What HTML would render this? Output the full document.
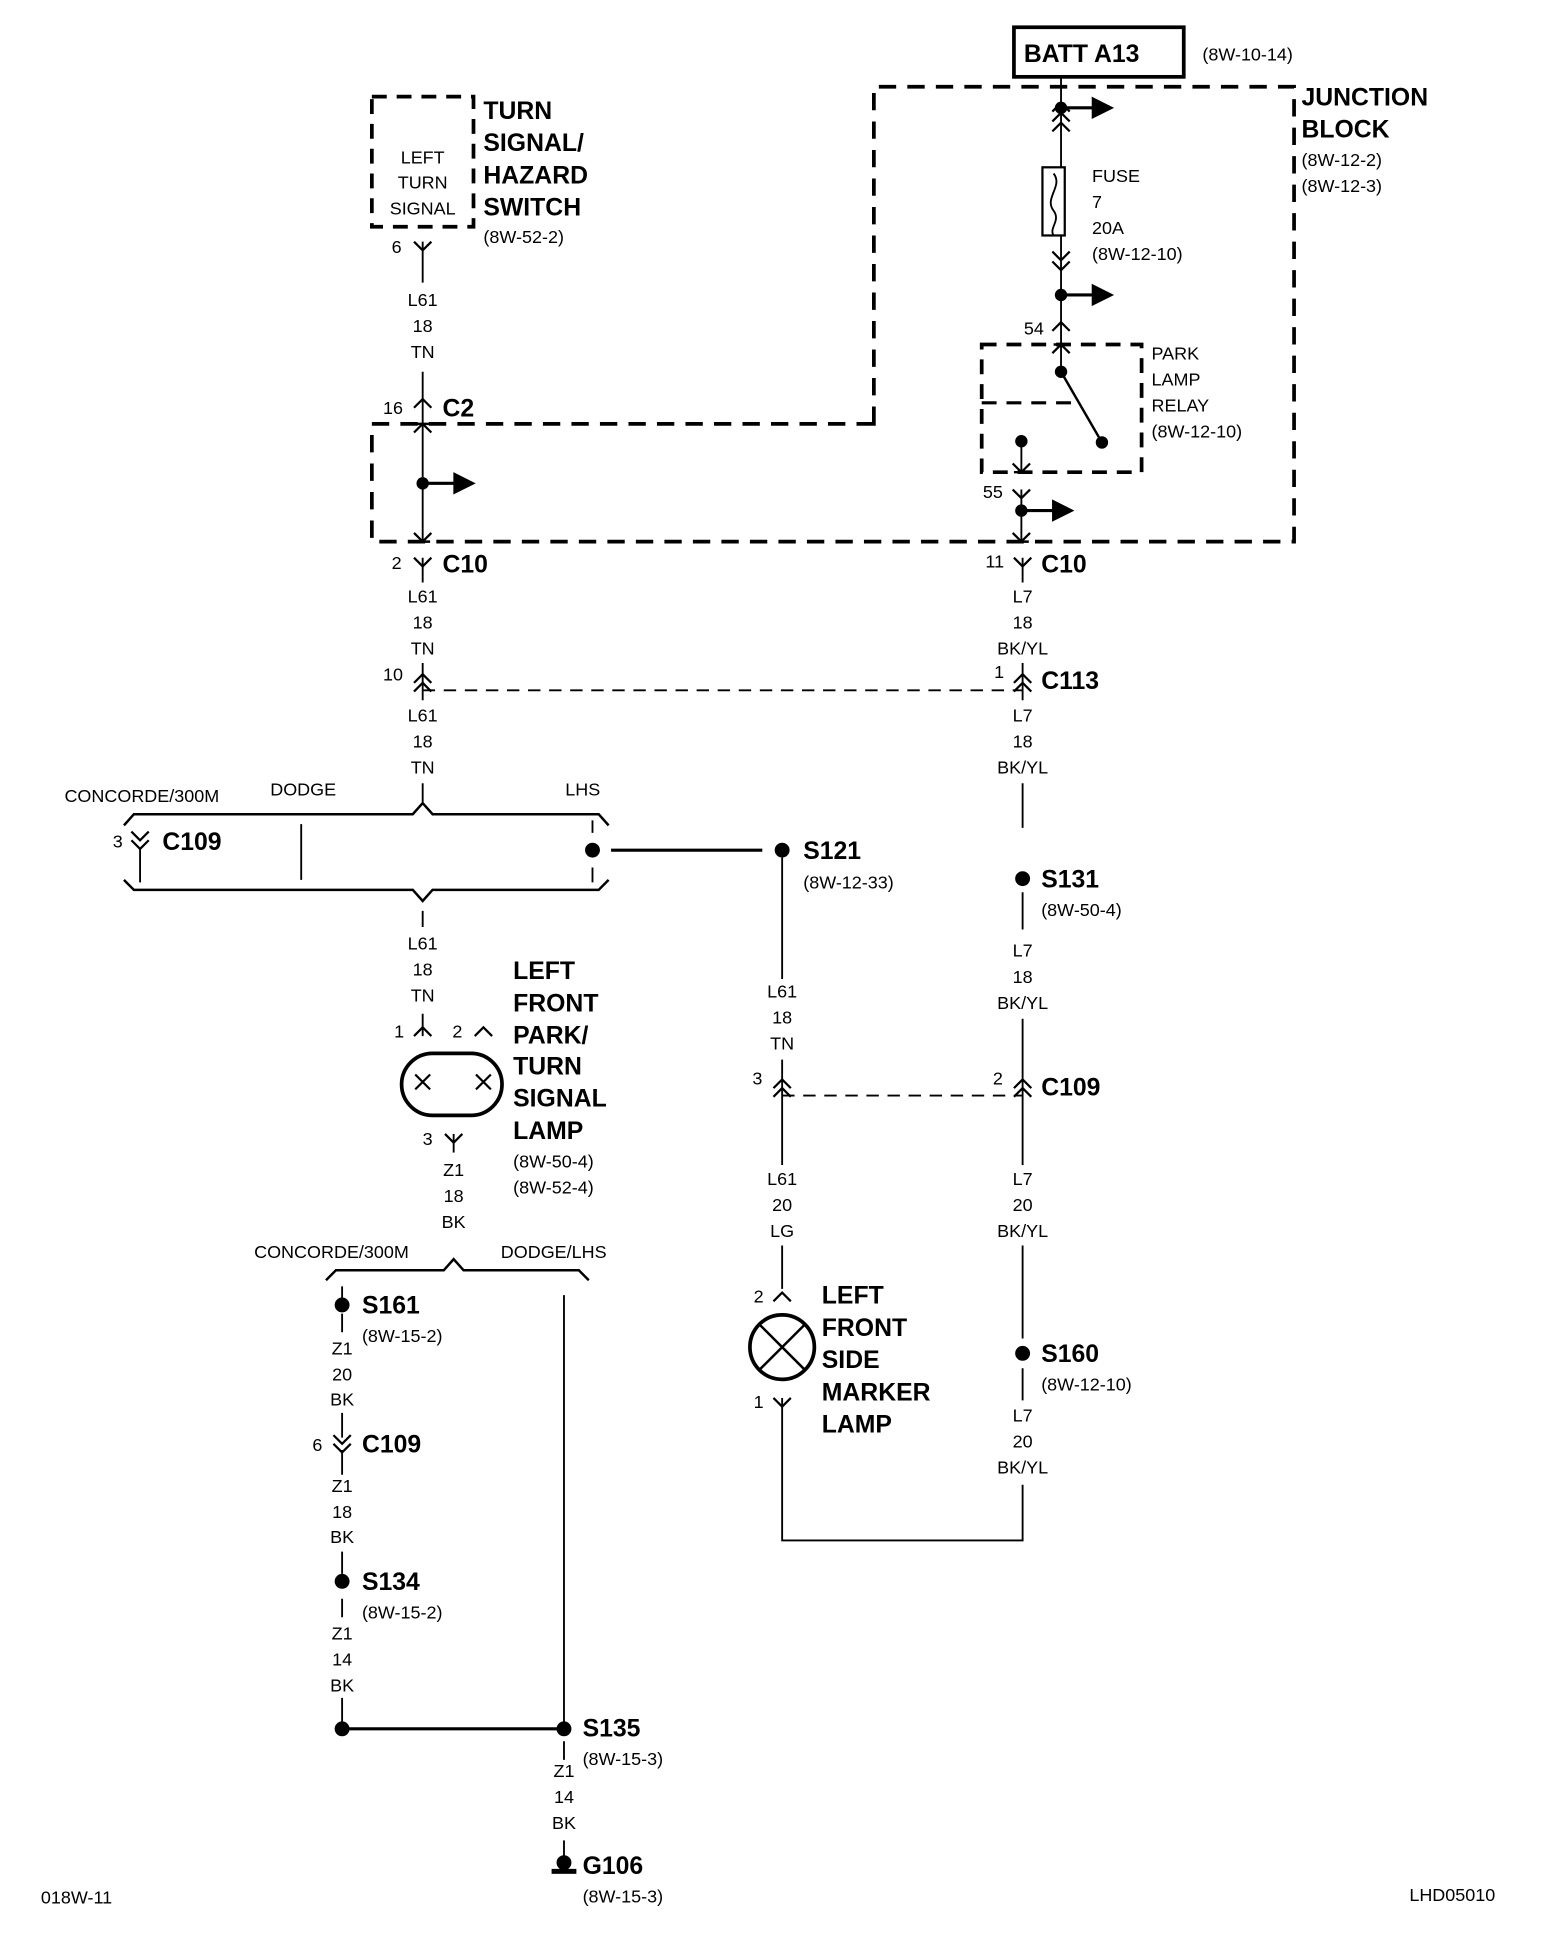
<!DOCTYPE html>
<html><head><meta charset="utf-8"><style>
html,body{margin:0;padding:0;background:#fff}
svg{display:block}
text{font-family:"Liberation Sans Narrow","Liberation Sans",sans-serif;fill:#000}
.s{font-size:14.5px}
.b{font-size:20px;font-weight:bold}
.m{text-anchor:middle}
</style></head><body>
<svg width="1568" height="1942" viewBox="0 0 1265 1567" preserveAspectRatio="none" xmlns="http://www.w3.org/2000/svg">
<defs>
<path id="up" d="M-7,7 L0,0 L7,7" fill="none" stroke="#000" stroke-width="1.8"/>
<path id="dn" d="M-7,-7 L0,0 L7,-7" fill="none" stroke="#000" stroke-width="1.8"/>
<path id="arr" d="M0,0 L28,0 M26,-7 L40,0 L26,7 Z" stroke="#000" stroke-width="2.5" fill="#000"/>
</defs>
<g stroke="#000" fill="none">
<rect x="818" y="22" width="137" height="40" stroke-width="3"/>
<path d="M705,342 L705,70 L1044,70 L1044,437 L300,437 L300,342 Z" stroke-width="3" stroke-dasharray="14,9"/>
<rect x="300" y="78" width="82" height="105" stroke-width="3" stroke-dasharray="12,8"/>
<rect x="792" y="278" width="129" height="103" stroke-width="3" stroke-dasharray="12,8"/>
<path d="M792,325 L870,325" stroke-width="2.5" stroke-dasharray="12,8"/>
<path d="M856,62 L856,135 M856,190 L856,300" stroke-width="1.5"/>
<rect x="841" y="135" width="18" height="55" stroke-width="1.8"/>
<path d="M850,140 C858,150 842,160 850,170 C856,178 846,184 850,190" stroke-width="1.5"/>
<path d="M856,300 L889,357" stroke-width="2"/>
<path d="M824,356 L824,381 M824,395 L824,437" stroke-width="1.5"/>
<path d="M341,195 L341,228 M341,300 L341,437 M341,450 L341,470 M341,535 L341,565 M341,632 L341,647" stroke-width="1.5"/>
<path d="M341,735 L341,748 M341,818 L341,836" stroke-width="1.5"/>
<path d="M341,557 L825,557" stroke-width="1.5" stroke-dasharray="10,7"/>
<path d="M100,666 L108,657 L333,657 L341,648 L349,657 L483,657 L491,666" stroke-width="2"/>
<path d="M100,710 L108,718 L333,718 L341,727 L349,718 L483,718 L491,710" stroke-width="2"/>
<path d="M113,685 L113,712 M243,665 L243,710" stroke-width="1.5"/>
<path d="M478,662 L478,672 M478,700 L478,712" stroke-width="1.5"/>
<path d="M493,686 L615,686" stroke-width="2.5"/>
<rect x="324" y="850" width="81" height="50" rx="25" stroke-width="3"/>
<path d="M335,867 L347,879 M347,867 L335,879 M384,867 L396,879 M396,867 L384,879" stroke-width="1.8"/>
<path d="M366,915 L366,930" stroke-width="1.5"/>
<path d="M263,1033 L271,1025 L358,1025 L366,1016 L374,1025 L467,1025 L475,1033" stroke-width="2"/>
<path d="M276,1038 L276,1048 M455,1045 L455,1395 M276,1060 L276,1075 M276,1140 L276,1160 M276,1170 L276,1190 M276,1252 L276,1270 M276,1290 L276,1305 M276,1370 L276,1395 M455,1405 L455,1420 M455,1485 L455,1500" stroke-width="1.5"/>
<path d="M276,1395 L455,1395" stroke-width="2.5"/>
<path d="M631,692 L631,790 M631,855 L631,940 M631,1005 L631,1040 M631,1128 L631,1243 L825,1243 L825,1198" stroke-width="1.5"/>
<path d="M631,884 L825,884" stroke-width="1.5" stroke-dasharray="10,7"/>
<circle cx="631" cy="1087" r="26" stroke-width="3"/>
<path d="M613,1069 L649,1105 M649,1069 L613,1105" stroke-width="2"/>
<path d="M825,450 L825,470 M825,535 L825,565 M825,632 L825,668 M825,720 L825,750 M825,822 L825,940 M825,1005 L825,1080 M825,1104 L825,1130" stroke-width="1.5"/>
</g>
<g>
<use href="#up" x="856" y="83"/><use href="#up" x="856" y="91"/><use href="#up" x="856" y="99"/>
<use href="#dn" x="856" y="210"/><use href="#dn" x="856" y="218"/>
<use href="#up" x="856" y="260"/><use href="#up" x="856" y="278"/>
<use href="#dn" x="824" y="381"/><use href="#dn" x="824" y="402"/><use href="#dn" x="824" y="437"/>
<use href="#dn" x="825" y="457"/>
<use href="#up" x="825" y="544"/><use href="#up" x="825" y="551"/>
<use href="#up" x="825" y="871"/><use href="#up" x="825" y="878"/>
<use href="#dn" x="341" y="202"/>
<use href="#up" x="341" y="322"/><use href="#up" x="341" y="342"/><use href="#dn" x="341" y="437"/>
<use href="#dn" x="341" y="457"/>
<use href="#up" x="341" y="544"/><use href="#up" x="341" y="551"/>
<use href="#dn" x="113" y="678"/><use href="#dn" x="113" y="685"/>
<use href="#up" x="341" y="829"/><use href="#up" x="390" y="829"/>
<use href="#dn" x="366" y="922"/>
<use href="#dn" x="276" y="1165"/><use href="#dn" x="276" y="1172"/>
<use href="#up" x="631" y="871"/><use href="#up" x="631" y="878"/>
<use href="#up" x="631" y="1043"/><use href="#dn" x="631" y="1135"/>
<path d="M850,278 L862,278 M335,342 L347,342 M335,437 L347,437 M818,437 L830,437 M818,381 L830,381" stroke="#000" stroke-width="2"/>
<use href="#arr" x="856" y="87"/><use href="#arr" x="856" y="238"/><use href="#arr" x="824" y="412"/><use href="#arr" x="341" y="390"/>
</g>
<g fill="#000">
<circle cx="856" cy="87" r="5"/><circle cx="856" cy="238" r="5"/><circle cx="856" cy="300" r="5"/><circle cx="889" cy="357" r="5"/>
<circle cx="824" cy="356" r="5"/><circle cx="824" cy="412" r="5"/><circle cx="341" cy="390" r="5"/>
<circle cx="478" cy="686" r="6"/><circle cx="631" cy="686" r="6"/><circle cx="825" cy="709" r="6"/><circle cx="825" cy="1092" r="6"/>
<circle cx="276" cy="1053" r="6"/><circle cx="276" cy="1276" r="6"/><circle cx="276" cy="1395" r="6"/><circle cx="455" cy="1395" r="6"/>
<circle cx="455" cy="1503" r="6"/><rect x="445" y="1508" width="20" height="4"/>
</g>
<text x="826" y="50" class="b">BATT A13</text>
<text x="970" y="49" class="s">(8W-10-14)</text>
<text x="1050" y="85" class="b">JUNCTION</text>
<text x="1050" y="111" class="b">BLOCK</text>
<text x="1050" y="134" class="s">(8W-12-2)</text>
<text x="1050" y="155" class="s">(8W-12-3)</text>
<text x="881" y="147" class="s">FUSE</text><text x="881" y="168" class="s">7</text><text x="881" y="189" class="s">20A</text><text x="881" y="210" class="s">(8W-12-10)</text>
<text x="826" y="270" class="s">54</text>
<text x="929" y="290" class="s">PARK</text><text x="929" y="311" class="s">LAMP</text><text x="929" y="332" class="s">RELAY</text><text x="929" y="353" class="s">(8W-12-10)</text>
<text x="793" y="402" class="s">55</text>
<text x="795" y="458" class="s">11</text><text x="840" y="462" class="b">C10</text>
<text x="825" y="486" class="s m">L7</text><text x="825" y="507" class="s m">18</text><text x="825" y="528" class="s m">BK/YL</text>
<text x="802" y="547" class="s">1</text><text x="840" y="556" class="b">C113</text>
<text x="825" y="582" class="s m">L7</text><text x="825" y="603" class="s m">18</text><text x="825" y="624" class="s m">BK/YL</text>
<text x="840" y="716" class="b">S131</text><text x="840" y="739" class="s">(8W-50-4)</text>
<text x="825" y="772" class="s m">L7</text><text x="825" y="793" class="s m">18</text><text x="825" y="814" class="s m">BK/YL</text>
<text x="801" y="875" class="s">2</text><text x="840" y="884" class="b">C109</text>
<text x="825" y="956" class="s m">L7</text><text x="825" y="977" class="s m">20</text><text x="825" y="998" class="s m">BK/YL</text>
<text x="840" y="1099" class="b">S160</text><text x="840" y="1122" class="s">(8W-12-10)</text>
<text x="825" y="1147" class="s m">L7</text><text x="825" y="1168" class="s m">20</text><text x="825" y="1189" class="s m">BK/YL</text>
<text x="341" y="132" class="s m">LEFT</text><text x="341" y="152" class="s m">TURN</text><text x="341" y="173" class="s m">SIGNAL</text>
<text x="390" y="96" class="b">TURN</text><text x="390" y="122" class="b">SIGNAL/</text><text x="390" y="148" class="b">HAZARD</text><text x="390" y="174" class="b">SWITCH</text>
<text x="390" y="196" class="s">(8W-52-2)</text>
<text x="316" y="204" class="s">6</text>
<text x="341" y="247" class="s m">L61</text><text x="341" y="268" class="s m">18</text><text x="341" y="289" class="s m">TN</text>
<text x="309" y="334" class="s">16</text><text x="357" y="336" class="b">C2</text>
<text x="316" y="459" class="s">2</text><text x="357" y="462" class="b">C10</text>
<text x="341" y="486" class="s m">L61</text><text x="341" y="507" class="s m">18</text><text x="341" y="528" class="s m">TN</text>
<text x="309" y="549" class="s">10</text>
<text x="341" y="582" class="s m">L61</text><text x="341" y="603" class="s m">18</text><text x="341" y="624" class="s m">TN</text>
<text x="52" y="647" class="s">CONCORDE/300M</text><text x="218" y="642" class="s">DODGE</text><text x="456" y="642" class="s">LHS</text>
<text x="91" y="684" class="s">3</text><text x="131" y="686" class="b">C109</text>
<text x="648" y="693" class="b">S121</text><text x="648" y="717" class="s">(8W-12-33)</text>
<text x="341" y="766" class="s m">L61</text><text x="341" y="787" class="s m">18</text><text x="341" y="808" class="s m">TN</text>
<text x="318" y="837" class="s">1</text><text x="365" y="837" class="s">2</text>
<text x="414" y="790" class="b">LEFT</text><text x="414" y="816" class="b">FRONT</text><text x="414" y="842" class="b">PARK/</text><text x="414" y="867" class="b">TURN</text><text x="414" y="893" class="b">SIGNAL</text><text x="414" y="919" class="b">LAMP</text>
<text x="414" y="942" class="s">(8W-50-4)</text><text x="414" y="963" class="s">(8W-52-4)</text>
<text x="341" y="924" class="s">3</text>
<text x="366" y="949" class="s m">Z1</text><text x="366" y="970" class="s m">18</text><text x="366" y="991" class="s m">BK</text>
<text x="205" y="1015" class="s">CONCORDE/300M</text><text x="404" y="1015" class="s">DODGE/LHS</text>
<text x="292" y="1060" class="b">S161</text><text x="292" y="1083" class="s">(8W-15-2)</text>
<text x="276" y="1093" class="s m">Z1</text><text x="276" y="1114" class="s m">20</text><text x="276" y="1134" class="s m">BK</text>
<text x="252" y="1171" class="s">6</text><text x="292" y="1172" class="b">C109</text>
<text x="276" y="1204" class="s m">Z1</text><text x="276" y="1225" class="s m">18</text><text x="276" y="1245" class="s m">BK</text>
<text x="292" y="1283" class="b">S134</text><text x="292" y="1306" class="s">(8W-15-2)</text>
<text x="276" y="1323" class="s m">Z1</text><text x="276" y="1344" class="s m">14</text><text x="276" y="1365" class="s m">BK</text>
<text x="470" y="1401" class="b">S135</text><text x="470" y="1424" class="s">(8W-15-3)</text>
<text x="455" y="1434" class="s m">Z1</text><text x="455" y="1455" class="s m">14</text><text x="455" y="1476" class="s m">BK</text>
<text x="470" y="1512" class="b">G106</text><text x="470" y="1535" class="s">(8W-15-3)</text>
<text x="631" y="805" class="s m">L61</text><text x="631" y="826" class="s m">18</text><text x="631" y="847" class="s m">TN</text>
<text x="607" y="875" class="s">3</text>
<text x="631" y="956" class="s m">L61</text><text x="631" y="977" class="s m">20</text><text x="631" y="998" class="s m">LG</text>
<text x="608" y="1051" class="s">2</text><text x="608" y="1136" class="s">1</text>
<text x="663" y="1052" class="b">LEFT</text><text x="663" y="1078" class="b">FRONT</text><text x="663" y="1104" class="b">SIDE</text><text x="663" y="1130" class="b">MARKER</text><text x="663" y="1156" class="b">LAMP</text>
<text x="33" y="1536" class="s">018W-11</text>
<text x="1137" y="1534" class="s">LHD05010</text>
</svg>
</body></html>
